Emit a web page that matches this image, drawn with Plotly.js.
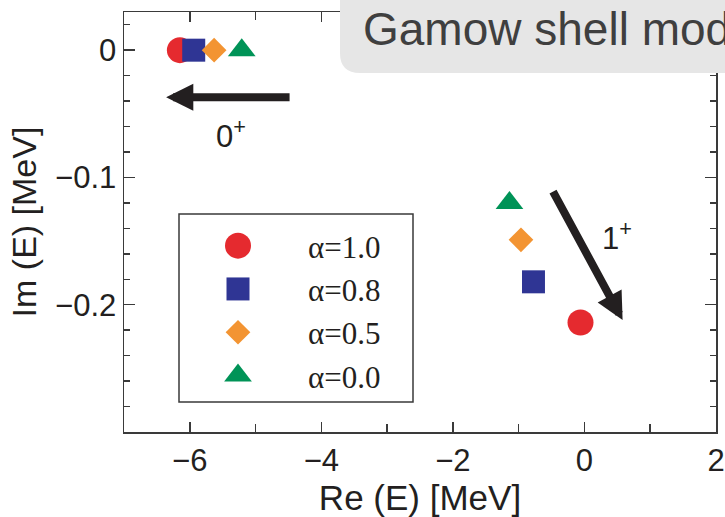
<!DOCTYPE html>
<html>
<head>
<meta charset="utf-8">
<script src="https://cdn.plot.ly/plotly-3.0.1.min.js"></script>
<style>
  html, body { margin: 0; padding: 0; background: #fff; }
  #chart { width: 725px; height: 517px; }
</style>
</head>
<body>
<div id="chart"></div>
<script>
// Complex energies of the 0+ and 1+ states for several values of alpha
const alphaLabels = ['α=1.0', 'α=0.8', 'α=0.5', 'α=0.0'];
const reE0plus = [-6.15, -5.94, -5.63, -5.21];
const imE0plus = [0.0, 0.0, 0.0, 0.0];
const reE1plus = [-0.06, -0.775, -0.965, -1.14];
const imE1plus = [-0.214, -0.182, -0.149, -0.120];

// Trend arrows (tail -> head) and state labels
const arrowTailX = [-4.46, -0.49];
const arrowTailY = [-0.037, -0.110];
const arrowHeadX = [-6.36, 0.58];
const arrowHeadY = [-0.037, -0.212];
const stateLabels = ['0<sup>+</sup>', '1<sup>+</sup>'];
const stateLabelX = [-5.38, 0.50];
const stateLabelY = [-0.066, -0.146];

const xTicks = [-6, -4, -2, 0, 2];
const yTicks = [-0.2, -0.1, 0];

const colors = ['#e52a2f', '#2f3594', '#f39432', '#009357'];
const symbols = ['circle', 'square', 'diamond', 'triangle-up'];
const sizes = [26, 23, 19, 24];

const ink = '#231f20';
const sans = 'Liberation Sans, Arial, sans-serif';

const traces = alphaLabels.map((name, i) => ({
  type: 'scatter',
  mode: 'markers',
  name: name,
  x: [reE0plus[i], reE1plus[i]],
  y: [imE0plus[i], imE1plus[i]],
  marker: { color: colors[i], symbol: symbols[i], size: sizes[i], line: { width: 0 } },
  cliponaxis: false
}));

const annotations = [];
arrowTailX.forEach((tx, i) => {
  annotations.push({
    xref: 'x', yref: 'y', axref: 'x', ayref: 'y',
    x: arrowHeadX[i], y: arrowHeadY[i], ax: tx, ay: arrowTailY[i],
    text: '', showarrow: true,
    arrowhead: 2, arrowsize: 0.68, arrowwidth: 8, arrowcolor: ink
  });
  annotations.push({
    xref: 'x', yref: 'y',
    x: stateLabelX[i], y: stateLabelY[i],
    text: stateLabels[i], showarrow: false,
    font: { family: sans, size: 31, color: ink }
  });
});

// Plot area in pixels: left 124, right 716, top 12, bottom 432
const L = 124, R = 716, T = 12, B = 432;
const px = v => (v - L) / (R - L);
const py = v => (B - v) / (B - T);

// Banner text across the top right
annotations.push({
  xref: 'paper', yref: 'paper',
  x: px(361), y: py(29), xanchor: 'left', yanchor: 'middle',
  text: 'Gamow shell model', showarrow: false,
  font: { family: sans, size: 46, color: '#3f3f3f' }
});

const bannerPath =
  'M ' + px(760) + ' ' + py(-20) +
  ' L ' + px(340) + ' ' + py(-20) +
  ' L ' + px(340) + ' ' + py(53) +
  ' Q ' + px(340) + ' ' + py(73) + ' ' + px(360) + ' ' + py(73) +
  ' L ' + px(760) + ' ' + py(73) + ' Z';

const shapes = [
  // legend frame
  {
    type: 'rect', xref: 'paper', yref: 'paper', layer: 'above',
    x0: px(179), x1: px(413), y0: py(402), y1: py(214),
    line: { color: '#3a3a3a', width: 1.5 }, fillcolor: 'rgba(0,0,0,0)'
  },
  // title banner
  {
    type: 'path', xref: 'paper', yref: 'paper', layer: 'above',
    path: bannerPath, fillcolor: '#e6e6e6', line: { width: 0 }
  }
];

const axisCommon = {
  showgrid: false, zeroline: false,
  showline: true, linecolor: '#3a3a3a', linewidth: 1.5,
  mirror: 'allticks', ticks: 'inside', tickcolor: '#3a3a3a', tickwidth: 1.5,
  tickmode: 'array',
  tickfont: { family: sans, size: 31, color: ink }
};

const layout = {
  width: 725, height: 517,
  margin: { l: L, r: 725 - R, t: T, b: 517 - B, pad: 0 },
  paper_bgcolor: '#ffffff', plot_bgcolor: '#ffffff',
  showlegend: true,
  legend: {
    x: px(168), y: py(219), xanchor: 'left', yanchor: 'top',
    bgcolor: 'rgba(0,0,0,0)', borderwidth: 0,
    itemwidth: 130, itemclick: false, itemdoubleclick: false,
    font: { family: 'Liberation Serif, Times New Roman, serif', size: 31, color: ink }
  },
  xaxis: Object.assign({}, axisCommon, {
    range: [-7, 2], tickvals: xTicks, ticklen: 10,
    minor: { dtick: 1, tick0: 0, ticklen: 8, tickcolor: '#3a3a3a', tickwidth: 1.5, ticks: 'inside', showgrid: false },
    title: { text: 'Re (E) [MeV]', standoff: 6, font: { family: sans, size: 35, color: ink } }
  }),
  yaxis: Object.assign({}, axisCommon, {
    range: [-0.3, 0.03], tickvals: yTicks, ticklen: 11,
    minor: { dtick: 0.02, tick0: 0, ticklen: 6, tickcolor: '#3a3a3a', tickwidth: 1.5, ticks: 'inside', showgrid: false },
    title: { text: 'Im (E) [MeV]', standoff: 8, font: { family: sans, size: 34, color: ink } }
  }),
  annotations: annotations,
  shapes: shapes
};

Plotly.newPlot('chart', traces, layout, { staticPlot: true, displayModeBar: false }).then(gd => {
  // Legend symbols are capped at 16px by Plotly; scale them up to the marker size
  gd.querySelectorAll('.legend .traces').forEach((g, i) => {
    const k = Math.max(sizes[i], 16) / 16;
    g.querySelectorAll('.legendpoints path.scatterpts').forEach(p => {
      const t = p.getAttribute('transform') || '';
      p.setAttribute('transform', t + ' scale(' + k + ')');
    });
  });
});
</script>
</body>
</html>
